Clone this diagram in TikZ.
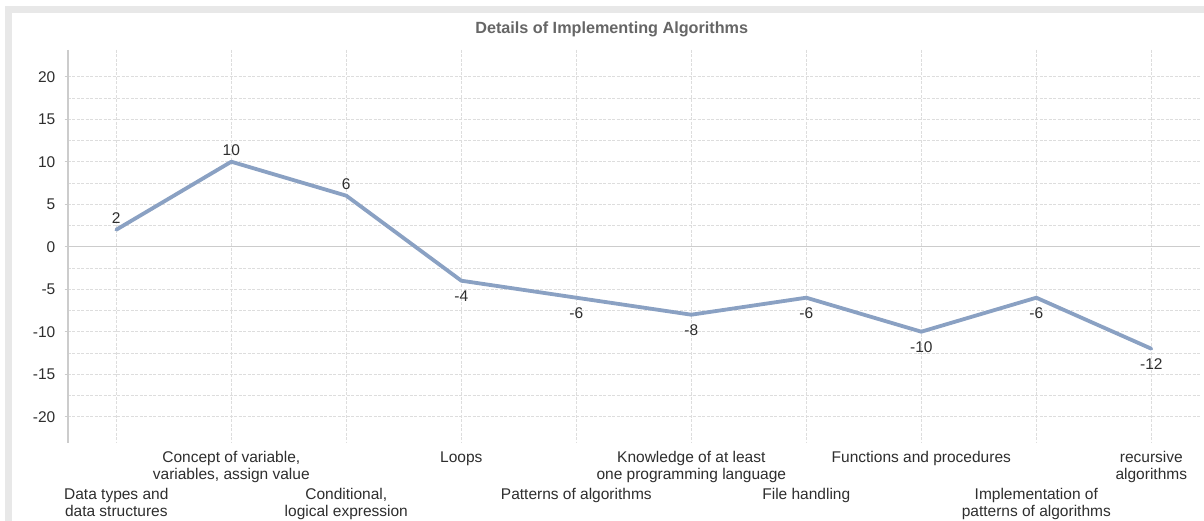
\documentclass[tikz,border=0pt]{standalone}
\usepackage{fontspec}
\usepackage{graphicx}
\setmainfont{Liberation Sans}
\definecolor{bandgray}{HTML}{E8E8E8}
\definecolor{gridgray}{HTML}{DDDDDD}
\definecolor{axisgray}{HTML}{CCCCCC}
\definecolor{txtgray}{HTML}{2E2E2E}
\definecolor{titlegray}{HTML}{666666}
\definecolor{linecol}{HTML}{8AA1C3}
\newcommand\twolines[2]{\vtop{\baselineskip=17.4pt\halign{\hfil##\hfil\cr#1\cr#2\cr}}}
\tikzset{
  gridline/.style={draw=gridgray, line width=0.8pt, dash pattern=on 3pt off 1.5pt},
  zeroline/.style={draw=axisgray, line width=1pt},
  axisline/.style={draw=axisgray, line width=2pt},
  tickmark/.style={draw=axisgray, line width=1pt},
  dataline/.style={draw=linecol, line width=3.8pt, line join=round, line cap=round},
  lbl/.style={font=\fontsize{15.5}{17.4}\selectfont, text=txtgray, inner sep=0pt},
  ticklbl/.style={lbl, anchor=base east},
  vallbl/.style={lbl, anchor=base},
  catlbl/.style={lbl, anchor=base},
}
\begin{document}
\begin{tikzpicture}[x=1pt,y=-1pt]
\useasboundingbox (0,0) rectangle (1204,521);
\fill[white] (0,0) rectangle (1204,521);
\fill[bandgray] (12,6) rectangle (1204,13);
\fill[bandgray] (5,6) rectangle (12,521);
% title
\node[anchor=base, inner sep=0pt, text=titlegray, font=\fontsize{16.2}{18}\selectfont\bfseries] (title) at (611.7,33.3)
  {Details of Implementing Algorithms};
% horizontal grid
\foreach \v in {-20,-17.5,-15,-12.5,-10,-7.5,-5,-2.5,2.5,5,7.5,10,12.5,15,17.5,20}
  \draw[gridline] (67.7,{246.7-8.5*\v}) -- (1200,{246.7-8.5*\v});
% vertical grid
\foreach \i in {0,...,9}
  \draw[gridline] ({116.3+115*\i},50) -- ({116.3+115*\i},443);
% zero line
\draw[zeroline] (67.7,246.7) -- (1200,246.7);
% axis and ticks
\draw[axisline] (67.7,50) -- (67.7,443);
\foreach \v in {-20,-15,...,20}{
  \draw[tickmark] (64.5,{246.7-8.5*\v}) -- (67.7,{246.7-8.5*\v});
  \node[ticklbl] (t\v) at (55.5,{246.7-8.5*\v+5.5}) {\v};
}
% data points
\foreach \v [count=\i from 0] in {2,10,6,-4,-6,-8,-6,-10,-6,-12}
  \coordinate (p\i) at ({116.3+115*\i},{246.7-8.5*\v});
\draw[dataline] (p0) -- (p1) -- (p2) -- (p3) -- (p4) -- (p5) -- (p6) -- (p7) -- (p8) -- (p9);
% value labels
\path (p0) ++(0,-5.7) node[vallbl] (l0) {2};
\path (p1) ++(0,-5.7) node[vallbl] (l1) {10};
\path (p2) ++(0,-5.7) node[vallbl] (l2) {6};
\path (p3) ++(0,21) node[vallbl] (l3) {-4};
\path (p4) ++(0,21) node[vallbl] (l4) {-6};
\path (p5) ++(0,21) node[vallbl] (l5) {-8};
\path (p6) ++(0,21) node[vallbl] (l6) {-6};
\path (p7) ++(0,21) node[vallbl] (l7) {-10};
\path (p8) ++(0,21) node[vallbl] (l8) {-6};
\path (p9) ++(0,21) node[vallbl] (l9) {-12};
% category labels
\node[catlbl] (c0) at (116.3,499.5) {\twolines{Data types and}{data structures}};
\node[catlbl] (c1) at (231.3,462.3) {\twolines{Concept of variable,}{variables, assign value}};
\node[catlbl] (c2) at (346.3,499.5) {\twolines{Conditional,}{logical expression}};
\node[catlbl] (c3) at (461.3,462.3) {Loops};
\node[catlbl] (c4) at (576.3,499.5) {Patterns of algorithms};
\node[catlbl] (c5) at (691.3,462.3) {\twolines{Knowledge of at least}{one programming language}};
\node[catlbl] (c6) at (806.3,499.5) {File handling};
\node[catlbl] (c7) at (921.3,462.3) {Functions and procedures};
\node[catlbl] (c8) at (1036.3,499.5) {\twolines{Implementation of}{patterns of algorithms}};
\node[catlbl] (c9) at (1151.3,462.3) {\twolines{recursive}{algorithms}};
\end{tikzpicture}
\end{document}
